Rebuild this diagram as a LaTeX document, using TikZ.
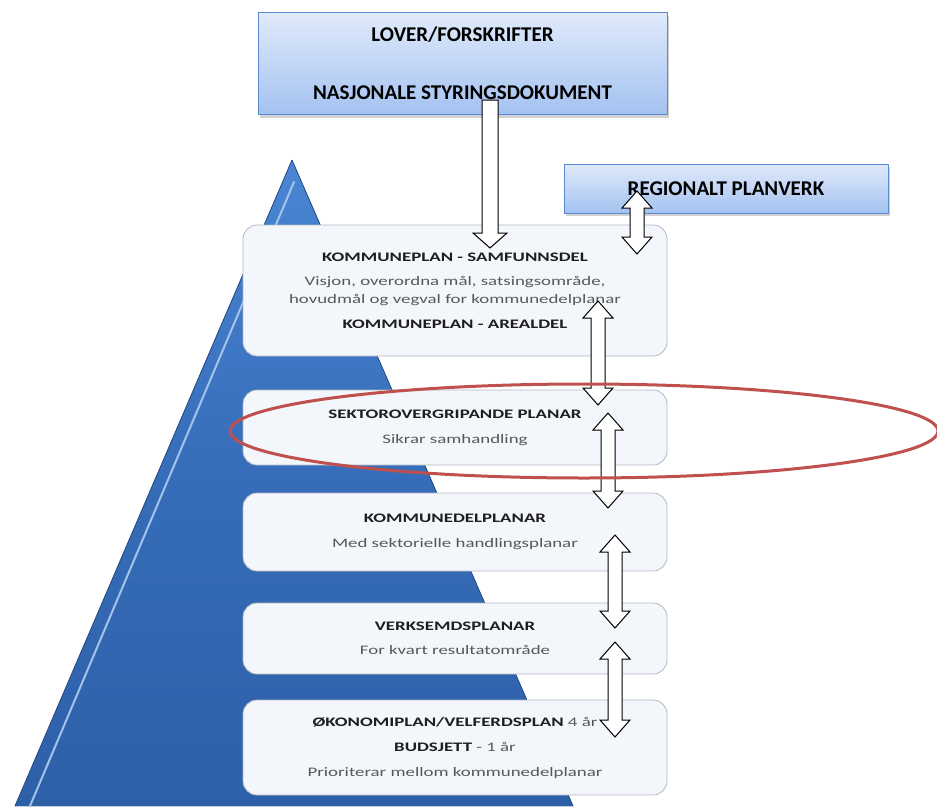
\documentclass[tikz,border=0pt]{standalone}
\usepackage{fontspec}
\setmainfont{Carlito}
\newfontfamily\widefont[FakeStretch=1.45]{Carlito}
\usetikzlibrary{calc,shadows}

\definecolor{pyrblue}{RGB}{46,96,168}
\definecolor{pyrmid}{RGB}{54,108,184}
\definecolor{pyrlight}{RGB}{74,134,212}
\definecolor{hdrtop}{RGB}{224,234,251}
\definecolor{hdrbot}{RGB}{164,194,240}
\definecolor{hdredge}{RGB}{92,138,210}
\definecolor{boxfill}{RGB}{243,246,250}
\definecolor{boxedge}{RGB}{178,184,196}
\definecolor{ringred}{RGB}{192,80,77}
\definecolor{headtxt}{RGB}{30,30,30}
\definecolor{subtxt}{RGB}{88,88,88}

\newcommand\hd[1]{{\bfseries\color{headtxt}#1}}
% double block arrow, #1 = upper tip, #2 = lower tip
\newcommand\dblarrow[2]{%
  \draw[blockarr] let \p1=(#1), \p2=(#2) in
    (\x1,\y1) -- (\x1+15pt,\y1-17pt) -- (\x1+7pt,\y1-17pt) -- (\x1+7pt,\y2+17pt)
    -- (\x1+15pt,\y2+17pt) -- (\x1,\y2) -- (\x1-15pt,\y2+17pt) -- (\x1-7pt,\y2+17pt)
    -- (\x1-7pt,\y1-17pt) -- (\x1-15pt,\y1-17pt) -- cycle;}
% single block arrow pointing down, #1 = tail, #2 = tip
\newcommand\downblock[2]{%
  \draw[blockarr] let \p1=(#1), \p2=(#2) in
    (\x1-8pt,\y1) -- (\x1-8pt,\y2+15pt) -- (\x1-17pt,\y2+15pt) -- (\x1,\y2)
    -- (\x1+17pt,\y2+15pt) -- (\x1+8pt,\y2+15pt) -- (\x1+8pt,\y1) -- cycle;}

\tikzset{
  hdrbox/.style={draw=hdredge,line width=1pt,top color=hdrtop,bottom color=hdrbot,
    drop shadow={shadow xshift=2pt,shadow yshift=-3pt,fill=black!35},
    align=center,font=\bfseries\fontsize{21}{24}\selectfont,text=black},
  planbox/.style={draw=boxedge,line width=0.8pt,fill=boxfill,rounded corners=14pt,
    minimum width=424pt,align=center,text=subtxt,
    font=\widefont\fontsize{13}{18}\selectfont},
  blockarr/.style={draw=black,fill=white,line width=1pt,line join=miter},
  ring/.style={draw=ringred,line width=3pt}
}

\begin{document}
\begin{tikzpicture}[x=1pt,y=-1pt,line cap=round,line join=round]
\useasboundingbox (0,0) rectangle (937,806);
\clip (0,0) rectangle (937,806);

% pyramid
\fill[top color=pyrlight,bottom color=pyrblue,middle color=pyrmid] (292,160) -- (573,806) -- (15,806) -- cycle;
\draw[pyrlight!50!white,line width=2pt] (294,182) -- (30,806);
\draw[pyrblue!80!black,line width=0.8pt] (15,806) -- (292,160) -- (573,806);

% top boxes
\node[hdrbox,minimum width=409pt,minimum height=102pt] (lover) at (462.5,63.5)
  {\rule{0pt}{4pt}LOVER/FORSKRIFTER\\[34pt]NASJONALE STYRINGSDOKUMENT};
\node[hdrbox,minimum width=324pt,minimum height=49pt] (regional) at (726,188.5)
  {REGIONALT PLANVERK};

% plan levels
\node[planbox,minimum height=131pt] (kpsam) at (455,290.5)
  {\hd{KOMMUNEPLAN - SAMFUNNSDEL}\\[6pt]Visjon, overordna mål, satsingsområde,\\
   hovudmål og vegval for kommunedelplanar\\[7pt]\hd{KOMMUNEPLAN - AREALDEL}};
\node[planbox,minimum height=75pt] (sektor) at (455,427.5)
  {\hd{SEKTOROVERGRIPANDE PLANAR}\\[7pt]Sikrar samhandling};
\node[planbox,minimum height=78pt] (kdp) at (455,532)
  {\hd{KOMMUNEDELPLANAR}\\[7pt]Med sektorielle handlingsplanar};
\node[planbox,minimum height=71pt] (verks) at (455,638.5)
  {\hd{VERKSEMDSPLANAR}\\[6pt]For kvart resultatområde};
\node[planbox,minimum height=95pt] (okon) at (455,747.5)
  {\hd{ØKONOMIPLAN/VELFERDSPLAN} 4 år\\[7pt]\hd{BUDSJETT} - 1 år\\[7pt]Prioriterar mellom kommunedelplanar};

% arrow ends
\coordinate (lovtail) at (490,100);
\coordinate (lovtip) at (490,248);
\coordinate (regtop) at (637,191);
\coordinate (regbot) at (637,254);
\coordinate (kptop) at (598,301);
\coordinate (kpbot) at (598,405);
\coordinate (sektop) at (608,413);
\coordinate (sekbot) at (608,508);
\coordinate (kdptop) at (615,535);
\coordinate (kdpbot) at (615,628);
\coordinate (vertop) at (615,642);
\coordinate (verbot) at (615,737);

\downblock{lovtail}{lovtip}
\dblarrow{regtop}{regbot}
\dblarrow{kptop}{kpbot}
\dblarrow{sektop}{sekbot}
\dblarrow{kdptop}{kdpbot}
\dblarrow{vertop}{verbot}

% marking round the cross-sector level
\draw[ring] (584,431) ellipse [x radius=354,y radius=47];
\end{tikzpicture}
\end{document}
